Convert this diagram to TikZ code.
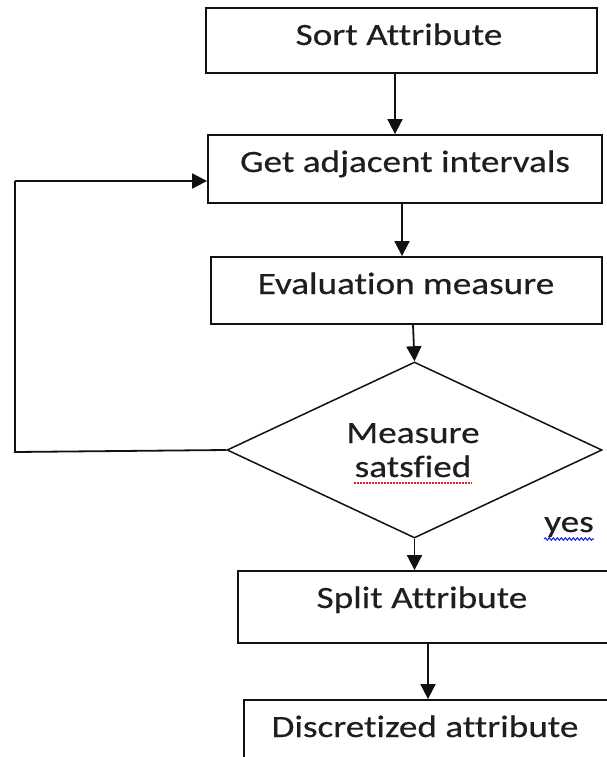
\documentclass[tikz,border=0pt]{standalone}
\usepackage{fontspec}
\setmainfont{Carlito}[FakeStretch=1.2, FakeBold=0.4, Ligatures={NoCommon}]
\usetikzlibrary{arrows.meta,shapes.geometric,decorations.pathmorphing}
\definecolor{ink}{HTML}{111111}
\definecolor{txtc}{HTML}{1E1E1E}
\definecolor{spellred}{HTML}{E02020}
\definecolor{spellblue}{HTML}{1E2EE8}
\tikzset{
  box/.style={draw=ink, line width=1.8pt, rectangle, inner sep=0pt, fill=none},
  dia/.style={draw=ink, line width=1.5pt, diamond, inner sep=0pt, aspect=2},
  txt/.style={text=txtc, font=\fontsize{31}{37}\selectfont, inner sep=0pt, anchor=base},
  arr/.style={draw=ink, line width=1.8pt, -{Triangle[length=15pt,width=15pt]}},
  conn/.style={draw=ink, line width=1.8pt}
}
\begin{document}
\begin{tikzpicture}[x=1pt,y=-1pt]
\useasboundingbox (0,0) rectangle (607,757);
\clip (0,0) rectangle (607,757);
% boxes
\node[box, minimum width=391pt, minimum height=65pt] (sort) at (401.5,40.5) {};
\node[box, minimum width=394pt, minimum height=68pt] (get) at (405,169) {};
\node[box, minimum width=391pt, minimum height=67pt] (eval) at (406.5,290.5) {};
\node[dia, minimum width=375pt, minimum height=176pt] (meas) at (414.5,450) {};
\node[box, minimum width=372pt, minimum height=72pt] (split) at (424,607) {};
\node[box, minimum width=366pt, minimum height=80pt] (disc) at (427,740) {};
% texts
\node[txt] (sortT) at (399,45) {Sort Attribute};
\node[txt] (getT) at (405,172) {Get adjacent intervals};
\node[txt] (evalT) at (406,294) {Evaluation measure};
\node[txt] (measT1) at (413,443) {Measure};
\node[txt] (measT2) at (413,477) {satsfied};
\node[txt] (yesT) at (569,532) {yes};
\node[txt] (splitT) at (422,608) {Split Attribute};
\node[txt] (discT) at (425,737) {Discretized attribute};
% spelling marks
\draw[spellred, line width=1.4pt, dash pattern=on 1.5pt off 1.5pt] ([yshift=-6pt]measT2.base west) -- ([yshift=-6pt]measT2.base east);
\draw[spellblue, line width=1.2pt, decorate, decoration={snake, amplitude=1.2pt, segment length=4pt}] ([yshift=-7pt]yesT.base west) -- ([yshift=-7pt]yesT.base east);
% connectors
\draw[arr] ([xshift=-6.5pt]sort.south) -- ([xshift=-6.5pt]sort.south |- get.north);
\draw[arr] ([xshift=-3pt]get.south) -- ([xshift=-3pt]get.south |- eval.north);
\draw[arr] ([xshift=6.5pt]eval.south) -- (meas.north);
\draw[arr] (meas.south) -- (meas.south |- split.north);
\draw[arr] ([xshift=4pt]split.south) -- ([xshift=4pt]split.south |- disc.north);
\coordinate (loopB) at (15,452);
\coordinate (loopT) at (15,181);
\draw[conn] (meas.west) -- (loopB) -- (loopT);
\draw[arr] (loopT) -- (loopT -| get.west);
\end{tikzpicture}
\end{document}
